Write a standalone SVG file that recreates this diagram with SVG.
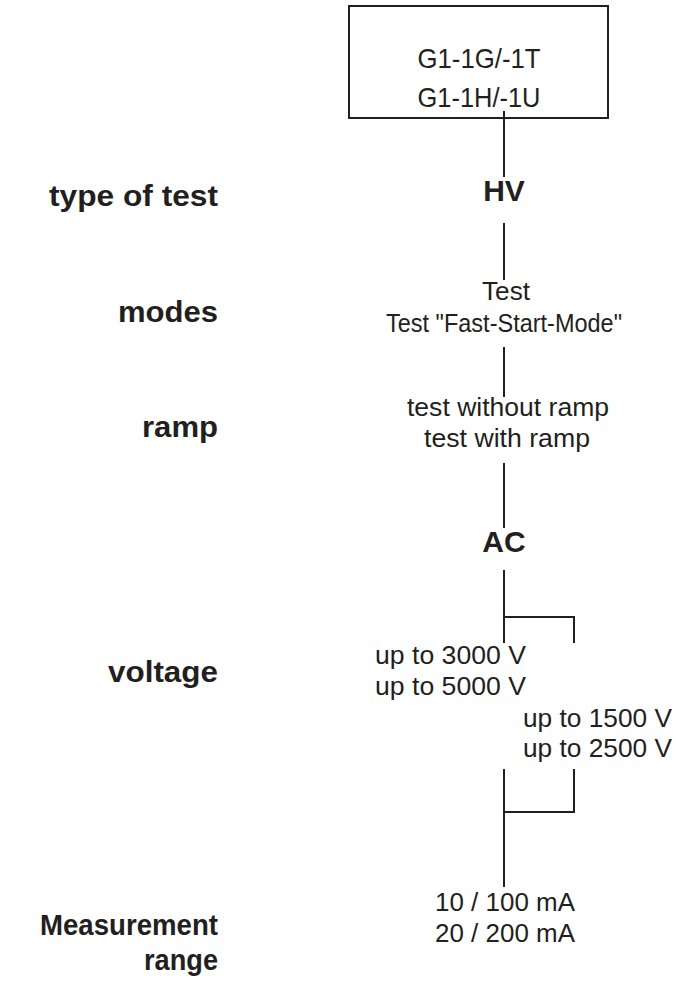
<svg xmlns="http://www.w3.org/2000/svg" width="676" height="982" viewBox="0 0 676 982">
<style>
.lbl{font-family:"Liberation Sans",Arial,sans-serif;font-weight:bold;font-size:30px;fill:#231f20;text-anchor:end}
.big{font-family:"Liberation Sans",Arial,sans-serif;font-weight:bold;font-size:30px;fill:#231f20;text-anchor:middle}
.txt{font-family:"Liberation Sans",Arial,sans-serif;font-size:25px;fill:#231f20;text-anchor:middle}
.txs{font-family:"Liberation Sans",Arial,sans-serif;font-size:25px;fill:#231f20}
.ln{stroke:#231f20;stroke-width:2;fill:none}
</style>
<rect width="676" height="982" fill="#ffffff"/>
<g id="labels">
<text class="lbl" x="218" y="206" textLength="169" lengthAdjust="spacingAndGlyphs">type of test</text>
<text class="lbl" x="218" y="322" textLength="100" lengthAdjust="spacingAndGlyphs">modes</text>
<text class="lbl" x="218" y="437" textLength="76" lengthAdjust="spacingAndGlyphs">ramp</text>
<text class="lbl" x="218" y="682" textLength="110" lengthAdjust="spacingAndGlyphs">voltage</text>
<text class="lbl" x="218" y="935" textLength="178" lengthAdjust="spacingAndGlyphs">Measurement</text>
<text class="lbl" x="218" y="970" textLength="74" lengthAdjust="spacingAndGlyphs">range</text>
</g>
<g id="connectors">
<path class="ln" d="M504 111V177"/>
<path class="ln" d="M504 223V280"/>
<path class="ln" d="M504 347V397"/>
<path class="ln" d="M504 463V528"/>
<path class="ln" d="M504 570V643M504 617H574V643"/>
<path class="ln" d="M504 769V887M504 812H574V769"/>
</g>
<g id="device">
<rect class="ln" x="349" y="6" width="259" height="112"/>
<text class="txt" x="479" y="68" style="font-size:28px" textLength="123" lengthAdjust="spacingAndGlyphs">G1-1G/-1T</text>
<text class="txt" x="479" y="107" style="font-size:28px" textLength="123" lengthAdjust="spacingAndGlyphs">G1-1H/-1U</text>
</g>
<g id="hv"><text class="big" x="504" y="201">HV</text></g>
<g id="modes">
<text class="txt" x="506" y="300" textLength="48" lengthAdjust="spacingAndGlyphs">Test</text>
<text class="txt" x="504" y="332" textLength="236" lengthAdjust="spacingAndGlyphs">Test "Fast-Start-Mode"</text>
</g>
<g id="ramp">
<text class="txt" x="508" y="416" textLength="202" lengthAdjust="spacingAndGlyphs">test without ramp</text>
<text class="txt" x="507" y="447" textLength="166" lengthAdjust="spacingAndGlyphs">test with ramp</text>
</g>
<g id="ac"><text class="big" x="504" y="552">AC</text></g>
<g id="voltage-a">
<text class="txs" x="375" y="664" textLength="151" lengthAdjust="spacingAndGlyphs">up to 3000 V</text>
<text class="txs" x="375" y="695" textLength="151" lengthAdjust="spacingAndGlyphs">up to 5000 V</text>
</g>
<g id="voltage-b">
<text class="txs" x="523" y="727" textLength="149" lengthAdjust="spacingAndGlyphs">up to 1500 V</text>
<text class="txs" x="523" y="757" textLength="149" lengthAdjust="spacingAndGlyphs">up to 2500 V</text>
</g>
<g id="range">
<text class="txt" x="505" y="911" textLength="140" lengthAdjust="spacingAndGlyphs">10 / 100 mA</text>
<text class="txt" x="505" y="942" textLength="140" lengthAdjust="spacingAndGlyphs">20 / 200 mA</text>
</g>
</svg>
